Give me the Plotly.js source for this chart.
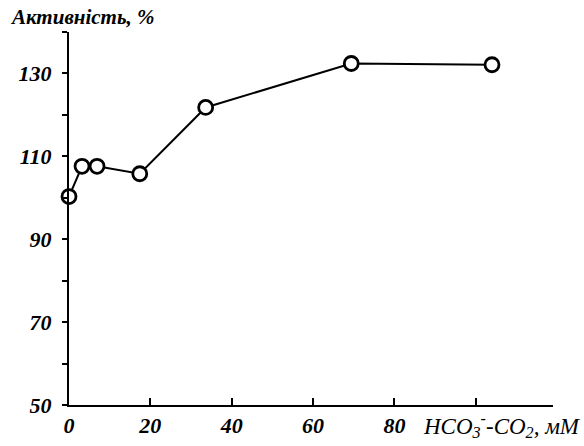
<!DOCTYPE html>
<html><head><meta charset="utf-8">
<script src="https://cdn.plot.ly/plotly-3.0.1.min.js"></script>
<style>body{margin:0;background:#fff}#c{width:584px;height:446px}</style>
</head><body><div id="c"></div>
<script>
const concentration = [0, 3.2, 6.9, 17.4, 33.6, 69.4, 104];
const activity = [100.3, 107.6, 107.6, 105.8, 121.8, 132.4, 132.1];
const xTickVals = [0, 20, 40, 60, 80, 100, 119];
const xTickLabels = ['0', '20', '40', '60', '80', '', ''];
const yTickVals = [50, 60, 70, 80, 90, 100, 110, 120, 130, 140];
const yTickLabels = ['50', '', '70', '', '90', '', '110', '', '130', ''];

const fam = 'Liberation Serif, Times New Roman, serif';
const bi = s => s ? '<b><i>' + s + '</i></b>' : '';

Plotly.newPlot('c', [{
  x: concentration, y: activity, mode: 'lines+markers', type: 'scatter',
  line: {color: '#000', width: 2},
  marker: {symbol: 'circle', size: 14, color: '#fff', line: {color: '#000', width: 2.8}},
  cliponaxis: false
}], {
  width: 584, height: 446,
  margin: {l: 69, r: 31, t: 32, b: 41},
  paper_bgcolor: '#fff', plot_bgcolor: '#fff',
  showlegend: false,
  font: {family: fam, size: 22, color: '#000'},
  xaxis: {
    range: [0, 119], tickvals: xTickVals, ticktext: xTickLabels.map(bi),
    ticks: 'inside', ticklen: 7, tickwidth: 2, tickcolor: '#000',
    showline: true, linecolor: '#000', linewidth: 2, showgrid: false, zeroline: false,
    tickfont: {family: fam, size: 22, color: '#000'}
  },
  yaxis: {
    range: [50, 140], tickvals: yTickVals, ticktext: yTickLabels.map(bi),
    ticks: 'outside', ticklen: 5, tickwidth: 2, tickcolor: '#000', ticklabelstandoff: 6,
    showline: true, linecolor: '#000', linewidth: 2, showgrid: false, zeroline: false,
    tickfont: {family: fam, size: 22, color: '#000'}
  },
  annotations: [
    {xref: 'paper', yref: 'paper', x: -0.126, y: 1.04, xanchor: 'left', yanchor: 'middle',
     text: '<b><i>Активність, %</i></b>', showarrow: false,
     font: {family: fam, size: 21, color: '#000'}},
    {xref: 'paper', yref: 'paper', x: 1.062, y: -0.056, xanchor: 'right', yanchor: 'middle',
     text: '<i>HCO<sub>3</sub><sup>-</sup>-CO<sub>2</sub>, мМ</i>', showarrow: false,
     font: {family: fam, size: 23, color: '#000'}}
  ]
}, {displayModeBar: false, staticPlot: true});
</script></body></html>
